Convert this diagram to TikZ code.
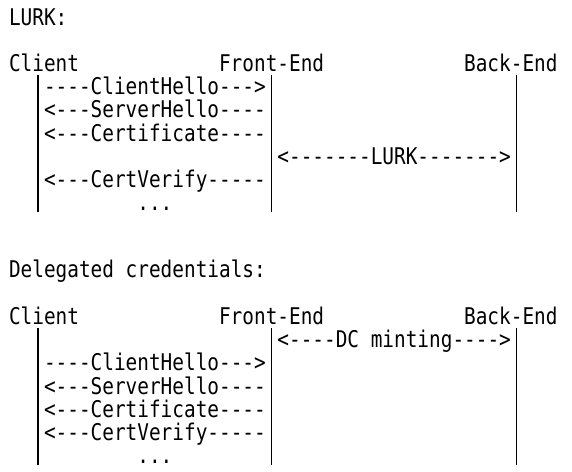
\documentclass[tikz,border=0pt]{standalone}
\usepackage{fontspec}
\setmonofont[FakeStretch=0.843]{DejaVu Sans Mono}
\begin{document}
\begin{tikzpicture}[x=1bp,y=-1bp,
  txt/.style={font=\fontsize{23bp}{23bp}\selectfont\ttfamily, inner sep=0pt, outer sep=0pt, anchor=base west, text=black},
  bar/.style={draw=black, line width=1.6bp}]
\fill[white] (0,0) rectangle (572,472);
\useasboundingbox (0,0) rectangle (572,472);
% ---------- LURK ----------
\node[txt] (lurkttl) at ({9+11.67*0},25.1) {LURK:};
\node[txt] (c1)  at ({9+11.67*0},71.5)  {Client};
\node[txt] (fe1) at ({9+11.67*18},71.5) {Front-End};
\node[txt] (be1) at ({9+11.67*39},71.5) {Back-End};
\node[txt] (ch1)   at ({9+11.67*3},94.7)  {----ClientHello--->};
\node[txt] (sh1)   at ({9+11.67*3},117.9) {<---ServerHello----};
\node[txt] (cert1) at ({9+11.67*3},141.1) {<---Certificate----};
\node[txt] (lurk1) at ({9+11.67*23},164.3) {<-------LURK------->};
\node[txt] (cv1)   at ({9+11.67*3},187.5) {<---CertVerify-----};
\node[txt] (dots1) at ({9+11.67*11},210.7) {...};
\coordinate (c1t) at ({9+11.67*2.5},75.5);  \coordinate (c1b) at ({9+11.67*2.5},212);
\coordinate (f1t) at ({9+11.67*22.5},75.5); \coordinate (f1b) at ({9+11.67*22.5},212);
\coordinate (b1t) at ({9+11.67*43.5},75.5); \coordinate (b1b) at ({9+11.67*43.5},212);
\draw[bar] (c1t) -- (c1b);
\draw[bar] (f1t) -- (f1b);
\draw[bar] (b1t) -- (b1b);
% ---------- Delegated credentials ----------
\node[txt] (dcttl) at ({9+11.67*0},278) {Delegated credentials:};
\node[txt] (c2)  at ({9+11.67*0},324.4)  {Client};
\node[txt] (fe2) at ({9+11.67*18},324.4) {Front-End};
\node[txt] (be2) at ({9+11.67*39},324.4) {Back-End};
\node[txt] (dc2)   at ({9+11.67*23},347.6) {<----DC minting---->};
\node[txt] (ch2)   at ({9+11.67*3},370.8) {----ClientHello--->};
\node[txt] (sh2)   at ({9+11.67*3},394)   {<---ServerHello----};
\node[txt] (cert2) at ({9+11.67*3},417.2) {<---Certificate----};
\node[txt] (cv2)   at ({9+11.67*3},440.4) {<---CertVerify-----};
\node[txt] (dots2) at ({9+11.67*11},463.6) {...};
\coordinate (c2t) at ({9+11.67*2.5},328.4);  \coordinate (c2b) at ({9+11.67*2.5},465);
\coordinate (f2t) at ({9+11.67*22.5},328.4); \coordinate (f2b) at ({9+11.67*22.5},465);
\coordinate (b2t) at ({9+11.67*43.5},328.4); \coordinate (b2b) at ({9+11.67*43.5},465);
\draw[bar] (c2t) -- (c2b);
\draw[bar] (f2t) -- (f2b);
\draw[bar] (b2t) -- (b2b);
\end{tikzpicture}
\end{document}
